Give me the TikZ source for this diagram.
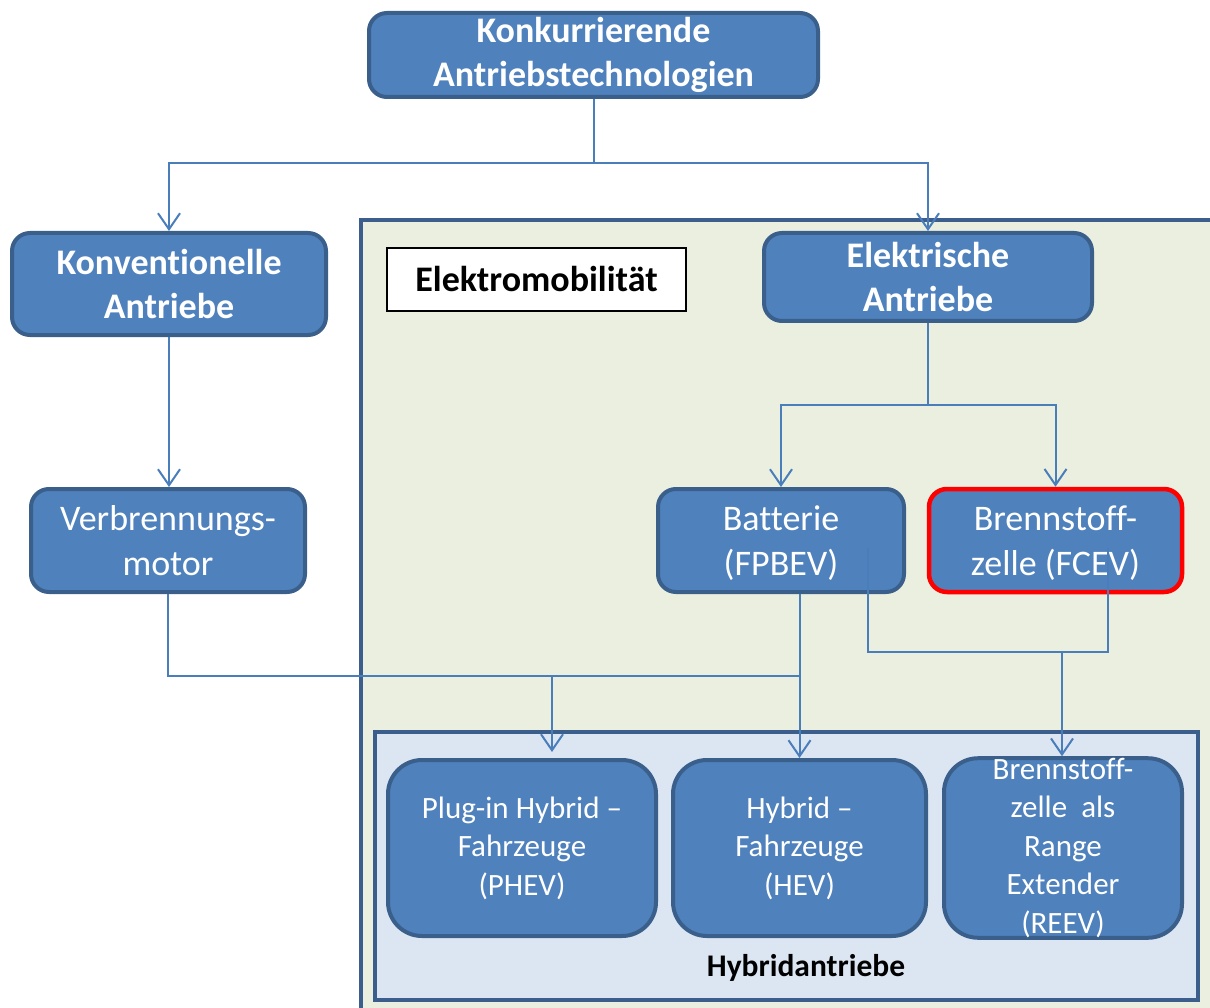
\documentclass[tikz,border=0pt]{standalone}
\usepackage{fontspec}
\setmainfont{Carlito}[Ligatures=NoCommon]
\usetikzlibrary{arrows.meta}

\definecolor{boxfill}{HTML}{4F81BD}
\definecolor{boxline}{HTML}{3A5F8B}
\definecolor{connline}{HTML}{4A7EBB}
\definecolor{emobfill}{HTML}{EBEFDF}
\definecolor{hybfill}{HTML}{DCE6F2}
\definecolor{frameline}{HTML}{3B5E8C}
\definecolor{alertred}{HTML}{FF0000}

\begin{document}
\begin{tikzpicture}[x=1pt,y=-1pt,
  box/.style={draw=boxline, line width=4pt, fill=boxfill, rounded corners=18pt,
    text=white, align=center, inner sep=0pt,
    font=\fontsize{36}{45}\selectfont},
  headbox/.style={box, font=\fontsize{36}{44}\selectfont\bfseries},
  hybbox/.style={box, rounded corners=34pt,
    font=\fontsize{31}{38.5}\selectfont},
  frame/.style={draw=frameline, line width=4pt},
  conn/.style={draw=connline, line width=2pt},
  arr/.style={conn, -{Straight Barb[length=16pt,width=22pt,line width=2pt]}}
]
\useasboundingbox (0,0) rectangle (1210,1008);
\clip (0,0) rectangle (1210,1008);

% containers
\node[frame, fill=emobfill, minimum width=866pt, minimum height=808pt,
      inner sep=0pt, anchor=north west] (emobbox) at (359,218) {};
\node[frame, fill=hybfill, minimum width=823pt, minimum height=268pt,
      inner sep=0pt, anchor=north west] (hybbox) at (373,730) {};
\node[font=\fontsize{31.5}{38}\selectfont\bfseries] (hyblabel) at (806,968) {Hybridantriebe};
\node[draw=black, line width=2pt, fill=white, minimum width=299pt, minimum height=63pt,
      inner sep=0pt, font=\fontsize{36}{44}\selectfont\bfseries] (emoblabel)
      at (536.5,279.5) {Elektromobilität};

% nodes
\node[headbox, minimum width=449pt, minimum height=84pt] (top) at (593.5,55)
  {Konkurrierende\\Antriebstechnologien};
\node[headbox, minimum width=314pt, minimum height=102pt] (konv) at (169,284)
  {Konventionelle\\Antriebe};
\node[box, minimum width=274pt, minimum height=103pt] (verb) at (168,540.5)
  {Verbrennungs-\\motor};
\node[headbox, minimum width=328pt, minimum height=88pt] (elek) at (928,277)
  {Elektrische\\Antriebe};
\node[box, minimum width=246pt, minimum height=103pt, text depth=0pt] (batt) at (781,540.5)
  {Batterie\\(FPBEV)};
\node[box, draw=alertred, line width=4.5pt, minimum width=253pt, minimum height=103pt,
  text depth=0pt] (fcev) at (1055.5,540.5) {Brennstoff-\\zelle (FCEV)};
\node[hybbox, minimum width=268pt, minimum height=176pt] (phev) at (522,848)
  {Plug-in Hybrid –\\Fahrzeuge\\(PHEV)};
\node[hybbox, minimum width=253pt, minimum height=176pt] (hev) at (799.5,848)
  {Hybrid –\\Fahrzeuge\\(HEV)};
\node[hybbox, minimum width=238pt, minimum height=176pt] (reev) at (1063,848)
  {Brennstoff-\\zelle\ \ als\\Range\\Extender\\(REEV)};

% junction points of the connectors
\coordinate (j1) at (593.5,163);
\coordinate (j2) at (928,405);
\coordinate (b1) at (800,676);
\coordinate (p1) at (552,676);
\coordinate (f1) at (868,548);
\coordinate (f2) at (1108,548);
\coordinate (f3) at (1062,652);

% connectors
\draw[conn] (top.south) -- (j1);
\draw[arr] (j1) -| (konv.north);
\draw[arr] (j1) -| (elek.north);
\draw[arr] (konv.south) -- (konv.south |- verb.north);
\draw[conn] (elek.south) -- (j2);
\draw[arr] (j2) -| (batt.north);
\draw[arr] (j2) -| (fcev.north);
\draw[conn] (verb.south) -- (verb.south |- b1) -- (b1);
\draw[arr, shorten >=6pt] (p1) -- (p1 |- phev.north);
\draw[arr] (batt.south -| hev.north) -- (hev.north);
\draw[conn] (f1) |- (f3) -| (f2);
\draw[arr] (f3) -- (f3 |- reev.north);
\end{tikzpicture}
\end{document}
